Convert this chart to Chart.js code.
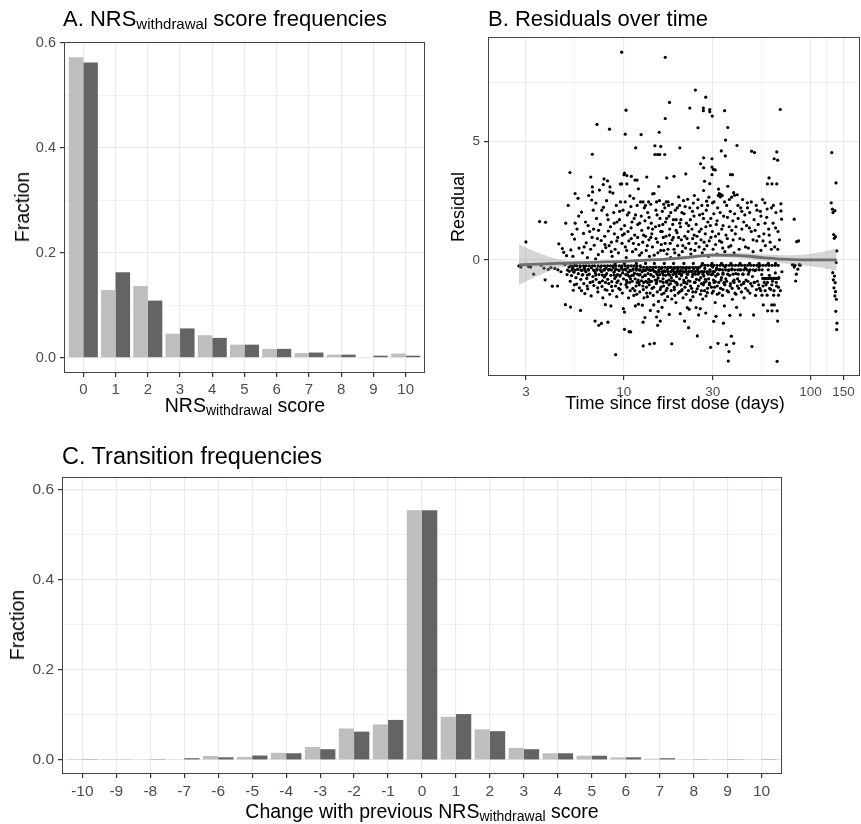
<!DOCTYPE html>
<html>
<head>
<meta charset="utf-8">
<script src="https://cdn.jsdelivr.net/npm/chart.js@4.4.1/dist/chart.umd.min.js"></script>
<style>
  body { margin: 0; background: #fff; width: 861px; height: 824px; position: relative; overflow: hidden;
         font-family: "Liberation Sans", Arial, sans-serif; }
  canvas { position: absolute; }
  .lbl { position: absolute; white-space: nowrap; color: #000; }
  .ttl { font-size: 22px; line-height: 22px; }
  .ttl sub { font-size: 15px; vertical-align: -3px; line-height: 0; }
  .axt { font-size: 19.5px; line-height: 20px; }
  .axt sub { font-size: 14px; vertical-align: -3px; line-height: 0; }
  .rot { transform: translate(-50%, -50%) rotate(-90deg); }
  .ctr { transform: translateX(-50%); }
</style>
</head>
<body>
<canvas id="chartA" width="430" height="420" style="left:0;top:0"></canvas>
<canvas id="chartB" width="431" height="420" style="left:430px;top:0"></canvas>
<canvas id="chartC" width="861" height="404" style="left:0;top:420px"></canvas>

<div class="lbl ttl" style="left:63px;top:8px">A. NRS<sub>withdrawal</sub> score frequencies</div>
<div class="lbl ttl" style="left:488px;top:8px">B. Residuals over time</div>
<div class="lbl ttl" style="left:62px;top:445px;font-size:23.5px">C. Transition frequencies</div>

<div class="lbl axt rot" style="left:22px;top:207px">Fraction</div>
<div class="lbl axt ctr" style="left:245px;top:395px">NRS<sub>withdrawal</sub> score</div>
<div class="lbl axt rot" style="left:458px;top:207px;font-size:18px">Residual</div>
<div class="lbl axt ctr" style="left:675px;top:393px;font-size:18px">Time since first dose (days)</div>
<div class="lbl axt rot" style="left:17px;top:625px">Fraction</div>
<div class="lbl axt ctr" style="left:422px;top:801px">Change with previous NRS<sub>withdrawal</sub> score</div>

<script>
// A. score frequencies (light = first series, dark = second series)
const scores = [0, 1, 2, 3, 4, 5, 6, 7, 8, 9, 10];
const scoreFreqLight = [0.573, 0.129, 0.137, 0.046, 0.043, 0.025, 0.017, 0.009, 0.006, 0.001, 0.008];
const scoreFreqDark  = [0.563, 0.163, 0.109, 0.056, 0.038, 0.025, 0.017, 0.010, 0.006, 0.004, 0.004];

// C. transition frequencies
const changes = [-10, -9, -8, -7, -6, -5, -4, -3, -2, -1, 0, 1, 2, 3, 4, 5, 6, 7, 8, 9, 10];
const changeFreqLight = [0.0005, 0.0005, 0.001, 0.001, 0.009, 0.007, 0.016, 0.029, 0.070, 0.079, 0.554,
                         0.096, 0.068, 0.027, 0.015, 0.0096, 0.006, 0.003, 0.002, 0.0005, 0.001];
const changeFreqDark  = [0.002, 0.001, 0.002, 0.004, 0.006, 0.010, 0.015, 0.024, 0.063, 0.089, 0.554,
                         0.102, 0.064, 0.024, 0.015, 0.0096, 0.006, 0.004, 0.002, 0.002, 0.002];

// B. axis breaks (minor grid lines as drawn in the picture)
const timeBreaks = [3, 10, 30, 100, 150];
const timeMinor = [5.48, 54.8, 122.5];
const residualBreaks = [0, 5];
const residualMinor = [-2.5, 2.5, 7.5];

// B. smoother and its ribbon
const smoothTime = [2.75, 3.2, 3.8, 4.5, 5.5, 7, 10, 14, 20, 30, 40, 55, 70, 90, 115, 138];
const smoothFit  = [-0.21, -0.19, -0.17, -0.15, -0.13, -0.1, -0.06, 0.0, 0.08, 0.2, 0.19, 0.1, 0.03, 0.0, 0.0, 0.0];
const smoothLo   = [-1.07, -0.8, -0.54, -0.33, -0.22, -0.17, -0.12, -0.06, 0.01, 0.11, 0.08, -0.04, -0.14, -0.22, -0.33, -0.46];
const smoothHi   = [0.66, 0.42, 0.2, 0.03, -0.04, -0.03, 0.0, 0.06, 0.15, 0.29, 0.3, 0.24, 0.2, 0.22, 0.33, 0.49];

// B. residuals [days, residual]
const residualPoints = [
  [2.75,-0.25],[2.82,-0.3],[3.0,0.76],[3.1,-0.28],[3.18,-0.3],[3.3,-0.6],[3.55,1.62],[3.62,-0.22],[3.82,1.59],[3.75,-0.35],
  [3.8,-0.84],[3.95,-0.4],[4.08,-0.32],[4.15,-1.11],[4.28,-0.36],[4.43,-1.1],[4.45,-0.42],[4.5,0.68],[4.62,-0.5],[4.7,0.48],
  [4.78,0.32],[4.85,-0.2],[4.9,1.55],[4.88,-1.89],[4.95,0.18],[4.98,-0.62],
  [5.05,2.3],[5.1,-0.3],[5.12,-0.48],[5.16,3.69],[5.18,-0.9],[5.2,-1.99],[5.22,0.42],[5.26,-0.66],[5.3,1.08],[5.33,-0.35],
  [5.38,-1.28],[5.42,-0.52],[5.46,0.88],[5.5,2.8],[5.5,1.55],[5.52,-0.2],[5.56,-0.75],[5.6,-1.02],[5.63,1.3],[5.67,-0.4],
  [5.7,2.6],[5.72,-0.58],[5.77,0.5],[5.8,-1.18],[5.84,-0.3],[5.88,-2.13],[5.9,-0.82],[5.95,2.02],[5.98,-0.45],[6.02,0.3],
  [6.05,-0.62],[6.1,1.12],[6.12,-1.0],[6.16,-0.35],[6.2,-1.42],[6.25,1.6],[6.28,-0.5],[6.31,0.72],[6.35,-0.78],[6.4,0.1],
  [6.42,-1.22],[6.46,-0.4],[6.5,2.72],[6.55,-0.6],[6.58,1.2],[6.62,-0.95],[6.66,0.45],[6.7,-1.52],[6.67,3.5],[6.75,2.53],
  [6.72,-0.33],[6.8,4.46],[6.8,3.08],[6.82,2.87],[6.85,-0.7],[6.88,2.1],[6.9,1.3],[6.93,-1.08],[6.96,0.62],[6.98,-0.45],
  [7.03,-2.58],[7.05,-0.55],[7.1,2.4],[7.12,-0.82],[7.16,1.75],[7.2,5.72],[7.2,-0.38],[7.24,0.9],[7.28,-1.35],[7.32,0.22],
  [7.36,-2.76],[7.38,-0.62],[7.42,2.95],[7.46,-0.95],[7.5,1.5],[7.53,-0.3],[7.58,0.82],[7.6,-2.68],[7.62,-0.5],[7.66,-1.12],
  [7.7,0.36],[7.74,-1.6],[7.78,3.18],[7.8,2.22],[7.82,-0.42],[7.85,3.42],[7.88,-0.72],[7.92,1.0],[7.96,-1.25],[7.98,-1.89],
  [8.02,0.52],[8.05,-0.35],[8.1,2.5],[8.12,-0.58],[8.16,1.9],[8.2,3.34],[8.22,-0.82],[8.24,-2.63],[8.28,1.22],[8.32,-1.0],
  [8.36,0.6],[8.4,5.52],[8.4,-0.4],[8.43,-1.45],[8.45,3.08],[8.45,2.87],[8.5,1.4],[8.55,-1.94],[8.55,-0.65],[8.6,0.75],
  [8.64,-0.92],[8.68,0.15],[8.72,-1.3],[8.76,2.82],[8.8,-0.32],[8.85,2.0],[8.88,-0.52],[8.92,1.1],[8.96,-0.78],[9.0,0.45],
  [9.06,-4.0],[9.05,-1.1],[9.1,-0.38],[9.14,2.3],[9.18,-1.55],[9.22,1.6],[9.26,-0.62],[9.3,0.95],[9.34,-0.88],[9.38,0.3],
  [9.42,-1.2],[9.46,-0.45],[9.5,1.7],[9.55,-0.68],[9.6,3.2],[9.62,2.45],[9.66,-1.02],[9.7,1.3],[9.74,-0.35],[9.76,8.77],
  [9.76,3.21],[9.8,0.7],[9.84,-1.4],[9.88,-0.55],[9.92,2.1],[9.96,-2.06],[9.98,-0.8],
  [10.05,3.6],[10.1,3.67],[10.1,-2.2],[10.1,-2.93],[10.12,1.45],[10.15,-0.4],[10.2,5.31],[10.2,2.45],[10.22,0.55],[10.26,-0.62],
  [10.3,6.32],[10.32,0.1],[10.35,-0.86],[10.4,3.56],[10.4,3.21],[10.42,-1.15],[10.46,1.9],[10.5,-0.32],[10.55,1.2],[10.58,-0.52],
  [10.62,-1.6],[10.66,0.8],[10.7,-3.03],[10.72,-0.7],[10.76,-0.95],[10.8,2.7],[10.85,-1.3],[10.9,-3.04],[10.9,-0.46],[10.94,2.25],
  [10.98,0.9],[11.0,3.53],[11.04,-0.66],[11.08,1.6],[11.12,-0.9],[11.16,0.35],[11.2,-1.2],[11.25,-0.38],[11.3,2.6],[11.34,-1.5],
  [11.38,1.75],[11.42,-0.56],[11.46,1.05],[11.5,3.37],[11.52,-0.8],[11.55,-1.94],[11.6,4.73],[11.62,0.45],[11.66,-1.1],[11.7,-0.35],
  [11.75,-1.45],[11.8,3.37],[11.82,2.3],[11.86,-0.6],[11.9,1.5],[11.95,-0.85],[12.0,3.0],[12.0,-1.87],[12.04,0.65],[12.08,-0.42],
  [12.12,-1.05],[12.16,0.2],[12.2,-1.35],[12.25,-0.62],[12.3,2.45],[12.35,-0.3],[12.4,5.29],[12.42,1.85],[12.46,-0.88],[12.5,1.25],
  [12.55,-0.5],[12.6,-1.91],[12.62,-0.72],[12.66,0.75],[12.7,2.45],[12.7,-2.63],[12.72,-3.63],[12.75,-1.25],[12.8,-0.95],[12.85,-1.6],
  [12.9,2.2],[12.95,-0.45],[13.0,1.65],[13.0,-2.43],[13.05,-0.66],[13.1,1.0],[13.15,-0.9],[13.2,0.4],[13.25,-1.15],[13.3,3.5],
  [13.34,-0.36],[13.4,-1.55],[13.45,2.0],[13.5,-0.58],[13.55,1.35],[13.6,2.45],[13.62,-0.82],[13.66,0.85],[13.7,-1.05],[13.75,0.15],
  [13.8,-3.55],[13.85,-1.4],[13.9,-2.13],[13.92,-0.44],[13.96,2.35],[14.0,-0.62],[14.05,1.55],[14.1,-0.9],[14.15,1.1],[14.2,-1.2],
  [14.25,0.55],[14.3,2.79],[14.35,-0.4],[14.4,-1.5],[14.45,-0.7],[14.5,-1.9],[14.55,2.8],[14.6,-3.52],[14.62,-0.5],[14.7,4.82],
  [14.7,4.45],[14.75,-0.85],[14.8,1.4],[14.85,-0.3],[14.9,0.9],[14.95,-1.0],[15.0,2.45],[15.0,-2.41],
  [15.05,-0.58],[15.1,1.9],[15.15,-1.35],[15.2,4.45],[15.2,-2.76],[15.25,0.3],[15.3,-2.17],[15.3,-0.76],[15.35,-1.75],[15.4,3.1],
  [15.45,-0.42],[15.5,5.39],[15.55,2.5],[15.6,4.45],[15.6,-0.62],[15.65,1.75],[15.7,-2.58],[15.75,-0.9],[15.8,4.79],[15.8,1.2],
  [15.85,-1.15],[15.9,0.65],[15.95,-0.36],[16.0,-1.45],[16.05,-2.0],[16.1,2.05],[16.15,-0.55],[16.2,1.5],[16.25,-0.8],[16.3,0.95],
  [16.35,-1.1],[16.4,0.4],[16.45,-1.4],[16.5,-0.46],[16.6,4.45],[16.6,2.2],[16.65,-1.7],[16.7,8.55],[16.7,5.97],[16.75,1.6],
  [16.8,-0.65],[16.85,1.0],[16.9,2.45],[16.95,-0.9],[17.0,3.46],[17.05,0.25],[17.1,-1.2],[17.15,-0.4],[17.2,-1.55],[17.3,2.45],
  [17.35,-0.6],[17.4,2.3],[17.45,-0.85],[17.5,1.85],[17.55,-2.3],[17.6,6.65],[17.65,1.3],[17.7,-0.32],[17.75,0.7],[17.8,-1.0],
  [17.85,0.1],[17.9,-0.5],[17.95,-1.3],[18.0,-0.75],[18.1,-3.54],[18.1,-1.65],[18.2,2.35],[18.25,-0.42],[18.3,1.5],[18.35,-0.62],
  [18.45,0.95],[18.5,-0.88],[18.6,3.53],[18.6,0.45],[18.65,-1.15],[18.75,-0.35],[18.8,-1.5],[18.9,2.1],[18.95,-0.55],[19.05,-1.8],
  [19.1,1.7],[19.2,-0.7],[19.3,1.15],[19.35,-1.05],[19.45,0.6],[19.5,-0.4],[19.6,-1.4],[19.7,2.66],[19.75,0.2],[19.8,-0.58],
  [19.9,2.3],[19.95,-0.8],[20.0,4.73],
  [20.1,-2.27],[20.15,1.4],[20.2,-0.45],[20.3,-1.05],[20.35,0.85],[20.4,-0.66],[20.5,2.0],[20.55,-1.25],[20.6,0.35],[20.7,-0.35],
  [20.8,-1.6],[20.9,2.5],[20.95,-0.85],[21.05,1.95],[21.1,-0.52],[21.2,-2.58],[21.25,1.0],[21.3,-1.15],[21.45,0.5],[21.5,3.63],
  [21.55,-0.4],[21.65,-0.75],[21.7,1.55],[21.8,-1.0],[21.9,-2.01],[22.0,2.56],[22.05,-0.6],[22.15,1.2],[22.2,-1.3],[22.25,-2.86],
  [22.35,0.7],[22.4,-2.08],[22.45,-0.35],[22.6,6.41],[22.6,2.2],[22.65,-0.9],[22.75,1.7],[22.8,-1.7],[22.9,0.25],[23.0,-0.48],
  [23.1,-1.2],[23.2,1.3],[23.3,-0.7],[23.4,0.9],[23.5,-1.55],[23.6,2.4],[23.7,-0.38],[23.8,1.85],[23.9,2.72],[23.95,-0.95],
  [24.05,0.4],[24.2,7.17],[24.2,-0.6],[24.3,-1.35],[24.4,-2.01],[24.45,1.5],[24.55,-0.82],[24.7,1.0],[24.8,-3.21],[24.85,-0.4],
  [25.0,5.58],[25.0,2.55],[25.1,-1.1],[25.2,-2.32],[25.25,-0.56],[25.35,0.55],[25.5,1.9],[25.6,-0.3],[25.7,-2.06],[25.75,-1.45],
  [25.8,4.06],[25.85,-0.75],[26.0,1.3],[26.1,-1.0],[26.2,2.3],[26.35,0.3],[26.4,-0.5],[26.5,-1.65],[26.7,6.41],[26.7,6.3],
  [26.75,1.75],[26.8,4.31],[26.8,3.89],[26.8,2.93],[26.85,-0.68],[26.95,0.75],[27.1,-1.3],[27.1,3.32],[27.2,-0.36],[27.35,1.1],
  [27.5,6.87],[27.5,-2.24],[27.6,-0.9],[27.6,-1.52],[27.7,2.1],[27.8,2.48],[27.9,0.6],[28.0,-0.55],[28.1,-1.2],[28.25,1.6],
  [28.4,0.15],[28.5,-0.8],[28.6,2.65],[28.75,-1.05],[28.9,6.35],[28.9,6.25],[28.9,3.22],[28.95,-0.42],[29.1,1.45],[29.2,-3.69],
  [29.3,0.95],[29.5,-0.62],[29.7,4.27],[29.7,3.92],[29.7,3.6],[29.75,-1.4],[29.8,6.07],[29.9,2.41],[29.95,-0.3],
  [30.1,0.45],[30.2,3.82],[30.25,-0.85],[30.3,-2.59],[30.4,1.95],[30.55,-0.5],[30.7,-1.15],[30.9,3.8],[30.9,-1.8],[31.0,1.0],
  [31.1,-0.68],[31.2,-2.38],[31.3,1.5],[31.45,-0.35],[31.6,0.25],[31.7,-1.45],[31.85,2.2],[32.0,-3.52],[32.0,-0.6],[32.1,2.72],
  [32.2,2.99],[32.3,-0.95],[32.5,2.8],[32.6,0.8],[32.75,-0.4],[32.9,2.66],[33.0,-1.2],[33.1,2.76],[33.3,4.6],[33.35,-0.75],
  [33.5,1.3],[33.7,2.72],[33.8,-1.5],[33.9,0.5],[34.0,-0.55],[34.2,-2.67],[34.3,1.85],[34.5,-1.0],[34.6,-1.94],[34.7,6.3],
  [34.8,0.35],[34.9,-0.3],[35.0,4.39],[35.1,5.06],[35.2,-0.8],[35.5,-3.58],[35.6,2.3],[35.8,-1.3],[35.9,0.9],[36.1,5.59],
  [36.1,3.11],[36.3,-4.27],[36.4,-0.45],[36.6,-3.87],[36.7,1.4],[36.8,2.55],[36.9,-0.65],[37.0,-2.34],[37.2,-1.1],[37.3,3.6],
  [37.5,0.6],[37.7,-3.22],[37.8,2.65],[38.0,-0.38],[38.2,3.6],[38.2,-1.66],[38.4,1.65],[38.6,-0.9],[38.8,2.84],[38.8,-3.52],
  [39.0,0.3],[39.2,2.73],[39.4,-1.4],[39.6,1.1],[39.8,-0.58],[40.2,-2.0],[40.4,4.83],[40.5,2.75],[40.7,-0.8],[41.0,1.75],
  [41.3,-1.2],[41.5,0.45],[41.8,-0.42],[42.1,-2.32],[42.3,2.2],[42.6,-1.05],[42.9,1.3],[43.3,2.55],[43.5,-0.6],[43.8,0.85],
  [44.1,-1.6],[44.5,1.9],[44.8,-0.35],[45.2,-0.85],[45.5,1.45],[45.9,2.41],[46.2,-1.3],
  [46.5,0.5],[46.9,-0.5],[47.3,2.0],[47.8,-1.0],[48.2,1.2],[48.4,4.59],[48.6,-3.66],[48.9,-0.7],[49.3,0.35],[49.6,-2.32],
  [49.9,1.7],[50.2,4.53],[50.4,-0.45],[50.8,-1.5],[51.2,2.3],[51.6,0.8],[52.0,-0.9],[52.5,1.5],[52.9,-0.3],[53.4,-1.2],
  [53.9,2.05],[54.3,0.4],[54.8,-0.62],[55.0,-1.49],[55.4,2.55],[55.9,-1.9],[56.3,1.1],[56.8,-0.8],[57.0,2.41],[57.3,0.6],
  [57.8,-1.05],[58.3,1.8],[58.6,-1.49],[58.8,3.21],[59.0,-2.15],[59.4,-0.42],[59.7,1.3],[60.0,3.46],[60.3,-0.65],[60.8,0.75],
  [61.3,-1.25],[61.8,2.2],[62.0,-1.9],[62.2,3.21],[62.2,-2.15],[62.6,-0.9],[63.1,1.55],[63.5,-1.49],[63.9,4.27],[64.0,-1.9],
  [64.3,0.55],[64.8,-0.55],[65.3,2.0],[65.8,-1.1],[66.0,4.56],[66.0,3.21],[66.3,-2.15],[66.3,-4.28],[66.7,-2.58],[66.7,4.21],
  [67.0,1.2],[67.4,-1.49],[67.7,-0.75],[68.2,0.85],[68.9,6.35],[69.0,-1.3],[69.4,2.37],[69.5,2.07],[70.0,1.72],[70.3,-0.5],
  [80,-0.2],[81.8,1.72],[81.8,-0.3],[82.5,-0.22],[83.3,-0.89],[84,-0.6],[84.3,0.77],[85.6,-0.39],[86.3,0.8],[87,-0.2],[88,-0.22],
  [129,2.41],[130,4.53],[131,2.14],[132,2.0],[131.5,-0.54],[132.5,-0.84],[133,1.07],[133.5,-1.18],[134,0.91],[134.5,-0.68],
  [135,-1.52],[135,2.08],[135.5,-0.96],[136,0.98],[136,-1.34],[136.5,-2.17],[137,3.25],[137,-0.11],[137.5,-1.66],[138,-2.94],
  [138.3,0.38],[138.5,-2.67],
  // denser middle of the cloud
  [5.35,0.15],[5.75,1.85],[6.15,0.55],[6.45,1.45],[6.78,0.95],[7.08,0.05],[7.34,1.25],[7.64,2.1],[7.94,0.65],[8.26,1.7],
  [8.58,0.35],[8.9,1.55],[9.2,0.8],[9.52,2.05],[9.85,1.05],[5.45,-1.05],[5.95,-1.3],[6.38,-1.1],[6.84,-0.92],[7.26,-1.18],
  [7.7,-0.88],[8.14,-1.28],[8.62,-1.12],[9.1,-0.7],[9.58,-1.25],
  [10.08,1.1],[10.38,0.4],[10.68,2.0],[10.96,1.35],[11.28,0.7],[11.58,1.9],[11.88,0.95],[12.18,1.55],[12.48,0.3],[12.78,1.05],
  [13.08,2.3],[13.38,0.6],[13.68,1.8],[13.98,0.95],[14.28,1.3],[14.58,0.2],[14.88,2.1],[15.18,0.75],[15.48,1.45],[15.78,0.4],
  [16.08,1.2],[16.38,2.35],[16.68,0.7],[16.98,1.75],[17.28,0.45],[17.58,1.05],[17.88,2.0],[18.18,0.85],[18.48,1.7],[18.78,0.3],
  [19.08,1.25],[19.38,2.2],[19.68,0.95],[19.98,1.55],
  [10.28,-1.05],[10.88,-0.8],[11.48,-1.3],[12.08,-0.95],[12.68,-1.1],[13.28,-1.4],[13.88,-0.92],[14.48,-1.15],[15.08,-0.85],
  [15.68,-1.25],[16.28,-0.95],[16.88,-1.3],[17.48,-1.05],[18.08,-0.88],[18.68,-1.25],[19.28,-0.98],[19.88,-1.35],
  [20.25,1.7],[20.75,0.6],[21.35,2.25],[21.85,0.9],[22.3,1.45],[22.85,0.45],[23.35,2.05],[23.85,1.05],[24.35,0.7],[24.9,2.2],
  [25.4,1.2],[25.95,0.85],[26.5,1.95],[27.0,0.45],[27.55,1.4],[28.15,2.3],[28.7,0.8],[29.25,1.75],[29.85,1.2],[30.45,2.45],
  [31.05,0.65],[31.65,1.65],[32.25,1.1],[32.85,2.0],[33.45,0.75],[34.05,1.45],[34.7,2.45],[35.3,1.05],[35.95,1.8],[36.55,0.55],
  [37.2,2.05],[37.9,1.25],[38.55,0.85],[39.25,1.95],[39.9,1.4],
  [20.45,-1.3],[21.0,-0.95],[21.6,-1.45],[22.2,-0.88],[22.8,-1.1],[23.45,-1.35],[24.1,-0.95],[24.75,-1.22],[25.4,-0.85],
  [26.05,-1.3],[26.7,-1.05],[27.4,-0.82],[28.05,-1.38],[28.8,-0.98],[29.5,-1.15],[30.2,-1.32],[30.95,-0.92],[31.7,-1.1],
  [32.45,-1.4],[33.2,-0.85],[34.0,-1.25],[34.8,-1.05],[35.6,-0.9],[36.4,-1.35],[37.3,-1.0],[38.1,-1.2],[39.0,-0.85],[39.9,-1.45],
  [40.9,2.3],[41.9,0.9],[42.9,2.05],[43.9,1.6],[44.9,0.55],[46.0,2.2],[47.1,1.35],[48.2,2.45],[49.3,0.85],[50.5,1.25],
  [51.7,2.1],[53.0,1.0],[54.3,1.85],[55.7,0.8],[57.1,1.55],[58.6,2.15],[60.1,1.05],[61.7,0.45],[63.3,2.3],[65.0,1.35],[66.8,0.45],
  [40.6,-1.1],[41.6,-0.9],[42.7,-1.35],[43.8,-1.0],[45.0,-1.2],[46.2,-0.9],[47.4,-1.4],[48.7,-1.1],[50.0,-0.95],[51.4,-1.25],
  [52.8,-1.05],[54.2,-1.3],[55.7,-1.1],[57.2,-1.3],[58.8,-0.95],[60.4,-1.2],[62.1,-1.05],[63.8,-1.3],[65.6,-0.95],[67.4,-1.15]
];

// B. horizontal streaks of residuals: [residual, [days...]]
const residualStreaks = [
  [-0.25, [5.2,5.4,5.6,5.85,6.1,6.3,6.55,6.8,7.0,7.3,7.6,7.9,8.2,8.5,8.8,9.1,9.5,9.8,10.2,10.6,11.0,11.4,11.8,12.3]],
  [-0.31, [12.8,13.3,13.8,14.3,14.9,15.5,16.1,16.7,17.3,18.0,18.7,19.4,20.1,20.9,21.7,22.5,23.4,24.3,25.2]],
  [-0.23, [26.2,27.2,28.2,29.3,30.4,31.6,32.8,34.1,35.4,36.8,38.2,39.7,41.2,42.8,44.4,46.1,47.9,49.7,51.6,
           53.6,55.7,57.8,60.0,62.3,64.7,67.2]],
  [-0.43, [5.0,5.3,5.5,5.9,6.2,6.5,6.9,7.2,7.5,7.9,8.3,8.6,9.0,9.4,9.9,10.3,10.8,11.2,11.7,12.2,12.7,13.2,13.7,14.2]],
  [-0.49, [14.8,15.4,16.0,16.6,17.2,17.9,18.6,19.3,20.0,20.8,21.6,22.4,23.3,24.2,25.1,26.0,27.0,28.0,29.1,30.2]],
  [-0.42, [31.3,32.5,33.8,35.1,36.4,37.8,39.3,40.8,42.4,44.0,45.7,47.4,49.2,51.1,53.1,55.1]],
  [-0.64, [6.0,6.4,7.1,7.7,8.0,8.9,9.6,10.5,11.3,12.1,13.0,14.0,15.2,16.3,17.6]],
  [-0.6, [19.0,20.4,21.9,23.5,25.0,26.6,28.4,30.0,31.9,34.0,36.0,38.5,41.0,43.5,46.5]],
  [-0.78, [55.5,56.8,58.0,59.3,60.6,61.9,63.2,64.6,66.0,67.3]],
  [-0.15, [9.0,10.1,11.7,13.1,14.6,16.5,18.5,21.0,23.6,26.4,29.7,33.4,37.5,42.0,47.2,53.0,59.4,65.0]],
  [-0.95, [7.4,8.0,9.2,10.4,11.8,13.4,15.0,17.0,19.0,21.3,24.0,27.0,30.5,34.5,39.0,44.0,50.0,56.5]]
];

Chart.defaults.font.family = '"Liberation Sans", Arial, sans-serif';
const GRID = '#ebebeb';
const TICK = '#333333';
const LABEL = '#4d4d4d';
const LIGHT = '#bebebe';
const DARK = '#646464';

// panel border drawn on top like ggplot's theme_bw
const frame = {
  id: 'frame',
  afterDatasetsDraw(chart) {
    const a = chart.chartArea, c = chart.ctx;
    c.save();
    c.strokeStyle = '#444';
    c.lineWidth = 1;
    c.strokeRect(Math.round(a.left) + 0.5, Math.round(a.top) + 0.5,
                 Math.round(a.right - a.left) - 1, Math.round(a.bottom - a.top) - 1);
    c.restore();
  }
};

function isMajor(v, majors) {
  return majors.some(m => Math.abs(m - v) < 1e-9);
}

function gridFor(majors) {
  return {
    offset: false,
    color: GRID,
    lineWidth: c => isMajor(c.tick.value, majors) ? 1.2 : 0.7,
    tickColor: c => isMajor(c.tick.value, majors) ? TICK : 'rgba(0,0,0,0)',
    tickLength: 4
  };
}

function fractionAxis(min, max, width, fontSize) {
  const majors = [0, 0.2, 0.4, 0.6];
  return {
    min: min, max: max,
    afterBuildTicks: s => { s.ticks = [0, 0.1, 0.2, 0.3, 0.4, 0.5, 0.6].map(v => ({ value: v })); },
    afterFit: s => { s.width = width; },
    border: { display: false },
    grid: gridFor(majors),
    ticks: {
      color: LABEL, font: { size: fontSize }, padding: 4,
      callback: v => isMajor(v, majors) ? v.toFixed(1) : ''
    }
  };
}

function categoryAxis(values, height, fontSize) {
  return {
    type: 'linear',
    min: values[0] - 0.6, max: values[values.length - 1] + 0.6,
    offset: false,
    afterBuildTicks: s => { s.ticks = values.map(v => ({ value: v })); },
    afterFit: s => { s.height = height; },
    border: { display: false },
    grid: gridFor(values),
    ticks: { color: LABEL, font: { size: fontSize }, padding: 4, maxRotation: 0, autoSkip: false,
             callback: v => String(v) }
  };
}

function barSet(xs, ys, color) {
  return {
    data: xs.map((x, i) => ({ x: x, y: ys[i] })),
    backgroundColor: color,
    borderWidth: 0,
    categoryPercentage: 0.9,
    barPercentage: 1.0
  };
}

const common = {
  responsive: false,
  animation: false,
  devicePixelRatio: 1,
  events: [],
  plugins: { legend: { display: false }, tooltip: { enabled: false } }
};

// A -------------------------------------------------------------------------
new Chart(document.getElementById('chartA'), {
  type: 'bar',
  data: { datasets: [barSet(scores, scoreFreqLight, LIGHT), barSet(scores, scoreFreqDark, DARK)] },
  options: Object.assign({}, common, {
    layout: { autoPadding: false, padding: { left: 0, top: 42, right: 5, bottom: 0 } },
    scales: {
      x: categoryAxis(scores, 47, 15),
      y: fractionAxis(-0.029, 0.602, 64, 14.5)
    }
  }),
  plugins: [frame]
});

// B -------------------------------------------------------------------------
const residualData = residualPoints.map(p => ({ x: p[0], y: p[1] }));
residualStreaks.forEach(s => s[1].forEach(x => residualData.push({ x: x, y: s[0] })));

const lineSet = (ys, extra) => Object.assign({
  type: 'line',
  data: smoothTime.map((x, i) => ({ x: x, y: ys[i] })),
  pointRadius: 0,
  borderColor: 'rgba(0,0,0,0)',
  borderWidth: 0,
  cubicInterpolationMode: 'monotone',
  fill: false
}, extra);

new Chart(document.getElementById('chartB'), {
  type: 'scatter',
  data: {
    datasets: [
      { data: residualData, pointRadius: 1.6, backgroundColor: '#000', borderWidth: 0, order: 3 },
      lineSet(smoothLo, { order: 2 }),
      lineSet(smoothHi, { order: 2, fill: '-1', backgroundColor: 'rgba(153,153,153,0.4)' }),
      lineSet(smoothFit, { order: 1, borderColor: '#6e6e6e', borderWidth: 2.8 })
    ]
  },
  options: Object.assign({}, common, {
    layout: { autoPadding: false, padding: { left: 0, top: 37, right: 1, bottom: 0 } },
    scales: {
      x: {
        type: 'logarithmic', min: 1.88, max: 184,
        afterBuildTicks: s => {
          s.ticks = timeBreaks.concat(timeMinor).sort((a, b) => a - b).map(v => ({ value: v }));
        },
        afterFit: s => { s.height = 44; },
        border: { display: false },
        grid: gridFor(timeBreaks),
        ticks: { color: LABEL, font: { size: 13.5 }, padding: 4, maxRotation: 0, autoSkip: false,
                 callback: v => isMajor(v, timeBreaks) ? String(v) : '' }
      },
      y: {
        min: -4.9, max: 9.41,
        afterBuildTicks: s => {
          s.ticks = residualBreaks.concat(residualMinor).sort((a, b) => a - b).map(v => ({ value: v }));
        },
        afterFit: s => { s.width = 58; },
        border: { display: false },
        grid: gridFor(residualBreaks),
        ticks: { color: LABEL, font: { size: 13.5 }, padding: 4,
                 callback: v => isMajor(v, residualBreaks) ? String(v) : '' }
      }
    }
  }),
  plugins: [frame]
});

// C -------------------------------------------------------------------------
new Chart(document.getElementById('chartC'), {
  type: 'bar',
  data: { datasets: [barSet(changes, changeFreqLight, LIGHT), barSet(changes, changeFreqDark, DARK)] },
  options: Object.assign({}, common, {
    layout: { autoPadding: false, padding: { left: 0, top: 57, right: 79, bottom: 0 } },
    scales: {
      x: categoryAxis(changes, 50, 15.5),
      y: fractionAxis(-0.031, 0.628, 62, 15.5)
    }
  }),
  plugins: [frame]
});
</script>
</body>
</html>
